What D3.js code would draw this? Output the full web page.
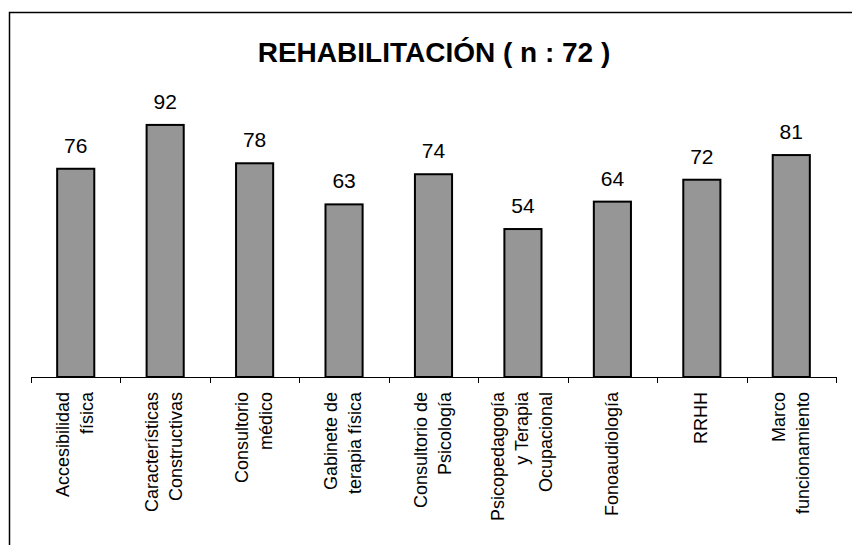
<!DOCTYPE html>
<html>
<head>
<meta charset="utf-8">
<script src="https://cdn.jsdelivr.net/npm/d3@7"></script>
<style>
  body { margin: 0; background: #fff; }
  text { font-family: "Liberation Sans", Arial, sans-serif; }
</style>
</head>
<body>
<div id="chart"></div>
<script>
// Chart data
const categories = [
  "Accesibilidad física", "Características Constructivas", "Consultorio médico",
  "Gabinete de terapia física", "Consultorio de Psicología",
  "Psicopedagogía y Terapia Ocupacional", "Fonoaudiología", "RRHH", "Marco funcionamiento"
];
const labelLines = [
  ["Accesibilidad", "física"],
  ["Características", "Constructivas"],
  ["Consultorio", "médico"],
  ["Gabinete de", "terapia física"],
  ["Consultorio de", "Psicología"],
  ["Psicopedagogía", "y Terapia", "Ocupacional"],
  ["Fonoaudiología"],
  ["RRHH"],
  ["Marco", "funcionamiento"]
];
const values = [76, 92, 78, 63, 74, 54, 64, 72, 81];
const title = "REHABILITACIÓN ( n : 72 )";

const width = 852;
const height = 545;

const svg = d3.select("#chart")
  .append("svg")
    .attr("width", width)
    .attr("height", height);

// Outer frame (runs off the right and bottom edges, like the source)
svg.append("rect")
  .attr("x", 9.5)
  .attr("y", 12.5)
  .attr("width", width + 20)
  .attr("height", height + 20)
  .attr("fill", "none")
  .attr("stroke", "#000")
  .attr("stroke-width", 1.5);

svg.append("text")
  .attr("x", 434)
  .attr("y", 62)
  .attr("text-anchor", "middle")
  .attr("font-size", 28)
  .attr("font-weight", "bold")
  .text(title);

// Scales
const x = d3.scaleBand()
  .domain(categories)
  .range([31, 836])
  .paddingInner(0.585)
  .paddingOuter(0.2925);

// slots without padding give the tick positions between categories
const slot = d3.scaleBand()
  .domain(categories)
  .range([31, 836]);

const y = d3.scaleLinear()
  .domain([0, 100])
  .range([377, 103]);

const data = categories.map((c, i) => ({ cat: c, value: values[i], lines: labelLines[i] }));

// Bars
svg.append("g")
  .selectAll("rect")
  .data(data)
  .join("rect")
    .attr("x", d => x(d.cat))
    .attr("y", d => y(d.value))
    .attr("width", x.bandwidth())
    .attr("height", d => y(0) - y(d.value))
    .attr("fill", "#969696")
    .attr("stroke", "#000")
    .attr("stroke-width", 2);

// Value labels
svg.append("g")
  .selectAll("text")
  .data(data)
  .join("text")
    .attr("x", d => x(d.cat) + x.bandwidth() / 2)
    .attr("y", d => y(d.value) - 16)
    .attr("text-anchor", "middle")
    .attr("font-size", 21)
    .text(d => d.value);

// Axis line and ticks
const axis = svg.append("g")
  .attr("transform", `translate(0,${y(0)})`)
  .call(d3.axisBottom(x).tickSize(0).tickFormat(""));
axis.select(".domain").attr("stroke", "#000").attr("d", `M${slot.range()[0]},0.5H${slot.range()[1]}`);

const tickPos = categories.map(c => slot(c)).concat([slot.range()[1]]);
axis.selectAll("line.sep")
  .data(tickPos)
  .join("line")
    .attr("class", "sep")
    .attr("x1", d => Math.round(d) + 0.5)
    .attr("x2", d => Math.round(d) + 0.5)
    .attr("y1", 0)
    .attr("y2", 6)
    .attr("stroke", "#000");

// Rotated category labels
const lineH = 24;
const lab = svg.append("g")
  .selectAll("g")
  .data(data)
  .join("g")
    .attr("transform", d => `translate(${slot(d.cat) + slot.bandwidth() / 2 - 1},392) rotate(-90)`);

lab.selectAll("text")
  .data(d => d.lines.map((t, i) => ({ t, off: (i - (d.lines.length - 1) / 2) * lineH })))
  .join("text")
    .attr("x", 0)
    .attr("y", d => d.off)
    .attr("dy", "0.35em")
    .attr("text-anchor", "end")
    .attr("font-size", 18)
    .text(d => d.t);
</script>
</body>
</html>
